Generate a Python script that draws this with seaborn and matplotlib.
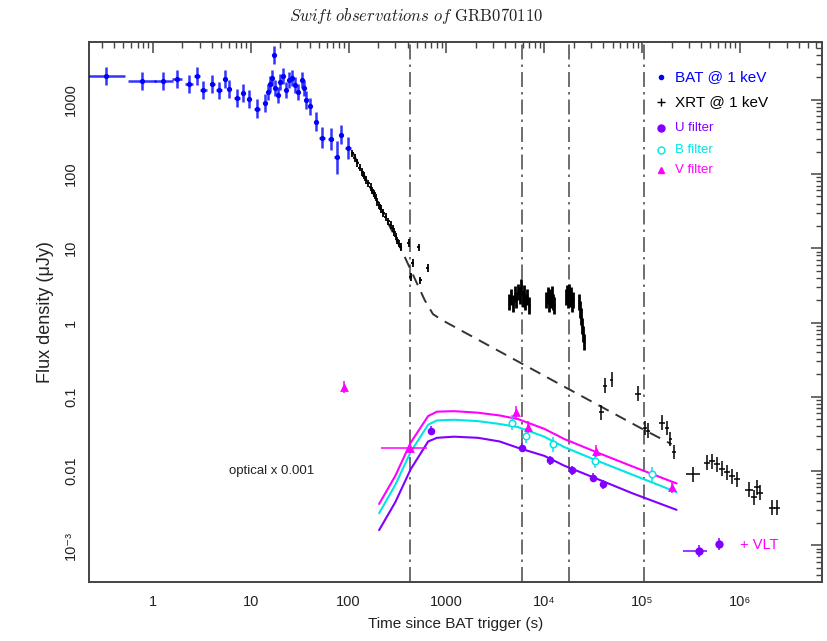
import numpy as np
import pandas as pd
import matplotlib
matplotlib.use("Agg")
import matplotlib.pyplot as plt
from matplotlib.ticker import LogLocator, NullFormatter, FixedLocator
import seaborn as sns

# ---------------- data ----------------
# BAT @ 1 keV
bat_t = [0.335, 0.77, 1.28, 1.75, 2.34, 2.8, 3.28, 4.06, 4.75, 5.47, 6.0, 7.2, 8.4, 9.65,
         11.6, 14.1, 15.1, 15.8, 16.6, 17.4, 17.8, 19.1, 20.1, 21.5, 23.1, 24.8, 26.6, 28.6,
         30.7, 33.0, 35.4, 37.1, 40.7, 45.9, 53.8, 65.3, 75.3, 84.2, 98.4]
bat_f = [2100, 1770, 1770, 1900, 1650, 2100, 1365, 1650, 1336, 1900, 1394, 1054, 1230, 1022,
         760, 902, 1283, 1645, 1982, 4050, 1452, 1169, 1750, 2108, 1365, 1862, 1982, 1595,
         1283, 1862, 1452, 1000, 812, 509, 309, 294, 168, 337, 222]
bat_ydex = [0.12, 0.12, 0.12, 0.12, 0.12, 0.12, 0.12, 0.12, 0.12, 0.12, 0.12, 0.12, 0.12, 0.12,
            0.13, 0.12, 0.11, 0.11, 0.11, 0.12, 0.11, 0.11, 0.11, 0.11, 0.11, 0.11, 0.11, 0.11,
            0.11, 0.11, 0.11, 0.12, 0.12, 0.13, 0.14, 0.15, 0.22, 0.13, 0.15]
bat_xdex = [0.19, 0.14, 0.10, 0.05, 0.04, 0.03, 0.04, 0.03, 0.03, 0.02, 0.02, 0.03, 0.02, 0.02,
            0.03, 0.02, 0.01, 0.01, 0.01, 0.01, 0.01, 0.01, 0.01, 0.01, 0.01, 0.01, 0.01, 0.01,
            0.01, 0.01, 0.01, 0.01, 0.02, 0.02, 0.03, 0.03, 0.03, 0.02, 0.03]

# XRT @ 1 keV : early steep decay
xrt1_t = [109, 116, 123, 130, 138, 143, 149, 158, 168, 175, 182, 190, 197, 205, 213, 226,
          239, 254, 270, 281, 292, 304, 316, 328, 341, 412, 432, 453, 522, 540, 646]
xrt1_f = [190, 165, 140, 122, 107, 95, 83, 75, 67, 60, 55, 48, 42, 38, 34, 30,
          26.5, 23, 20.5, 18.5, 16.6, 14.5, 12.8, 11.5, 10.4, 11.7, 4.1, 6.3, 10.3, 3.7, 5.4]
# XRT flares
xrt2_t = [4400, 4600, 4800, 5000, 5200, 5400, 5600, 5800, 6000, 6200, 6400, 6700, 7000,
          10500, 10800, 11100, 11400, 11700, 12000, 12300, 12600,
          16800, 17200, 17600, 18000, 18400, 18800, 19300, 19800,
          22400, 23000, 23600, 24300, 25000, 25700]
xrt2_f = [1.9, 2.2, 1.8, 2.4, 2.0, 2.6, 2.3, 3.0, 2.1, 2.5, 1.9, 2.2, 1.7,
          2.0, 2.3, 1.8, 2.2, 2.0, 2.4, 1.9, 1.7,
          2.2, 2.5, 2.0, 2.6, 2.1, 2.3, 1.8, 2.0,
          1.9, 1.5, 1.2, 0.9, 0.7, 0.55]
# XRT late
xrt3_t = [38400, 41600, 48700, 90000, 107000, 115000, 160000, 180000, 195000, 210000,
          334000, 460000, 515000, 580000, 653000, 736000, 828000, 931000,
          1230000, 1380000, 1490000, 1610000, 2130000, 2400000]
xrt3_f = [0.062, 0.14, 0.17, 0.11, 0.038, 0.035, 0.045, 0.038, 0.027, 0.018,
          0.009, 0.0129, 0.0136, 0.0123, 0.0107, 0.0096, 0.0085, 0.0077,
          0.0056, 0.0044, 0.0060, 0.0051, 0.0032, 0.0032]
xrt3_xdex = [0.03, 0.02, 0.02, 0.03, 0.02, 0.02, 0.03, 0.02, 0.02, 0.02,
             0.07, 0.03, 0.03, 0.03, 0.03, 0.03, 0.03, 0.03,
             0.04, 0.03, 0.03, 0.03, 0.03, 0.03]

# model (dashed)
mod_t = [110, 341, 600, 727, 900, 16800, 100000, 200000]
mod_f = [195, 10.0, 2.0, 1.3, 1.08, 0.132, 0.037, 0.023]

# optical model curves (x 0.001)
curve_t = [205, 300, 430, 650, 800, 1200, 2100, 3500, 5400, 10000, 16000, 35000, 80000, 225000]
curve_V = [0.0036, 0.0086, 0.024, 0.055, 0.063, 0.064, 0.061, 0.056, 0.050, 0.037, 0.027, 0.0177, 0.0115, 0.0068]
curve_B = [0.0027, 0.0065, 0.018, 0.042, 0.048, 0.049, 0.047, 0.043, 0.039, 0.029, 0.021, 0.0137, 0.0089, 0.0052]
curve_U = [0.0016, 0.0038, 0.0105, 0.025, 0.028, 0.029, 0.028, 0.025, 0.0205, 0.016, 0.0118, 0.0078, 0.0050, 0.0030]

# optical points
U_t = [693, 5900, 11400, 19000, 31800, 39600]
U_f = [0.035, 0.0207, 0.014, 0.0102, 0.0081, 0.0066]
B_t = [4700, 6500, 12300, 33000, 126000]
B_f = [0.045, 0.030, 0.023, 0.0138, 0.009]
V_t = [89, 423, 5160, 6800, 34100, 201000]
V_f = [0.134, 0.0207, 0.0617, 0.039, 0.0186, 0.006]
V_tlo = [89, 215, 5160, 6800, 34100, 201000]
V_thi = [89, 640, 5160, 6800, 34100, 201000]
VLT_t = [380000, 610000]
VLT_f = [0.00083, 0.00103]
VLT_tlo = [264000, 590000]
VLT_thi = [460000, 630000]

vlines_t = [420, 5900, 18000, 105000]

xtick_vals = [1, 10, 100, 1e3, 1e4, 1e5, 1e6]
xtick_labels = ["1", "10", "100", "1000", "10\u2074", "10\u2075", "10\u2076"]
ytick_vals = [1e-3, 1e-2, 0.1, 1, 10, 100, 1000]
ytick_labels = ["10\u207b\u00b3", "0.01", "0.1", "1", "10", "100", "1000"]

legend_items = [("BAT @ 1 keV", "blue"), ("XRT @ 1 keV", "black"),
                ("U filter", "#8000ff"), ("B filter", "#00e5e5"), ("V filter", "#ff00ff")]

# ---------------- style ----------------
sns.set_theme(style="white")
plt.rcParams["font.family"] = ["Liberation Sans", "DejaVu Sans"]
plt.rcParams["mathtext.fontset"] = "cm"

C_BAT = "blue"
C_XRT = "black"
C_U = "#8000ff"
C_B = "#00e5e5"
C_V = "#ff00ff"

fig = plt.figure(figsize=(8.28, 6.41), dpi=100)
ax = fig.add_axes([89 / 828, 1 - 582 / 641, 733 / 828, 540 / 641])
ax.set_xscale("log")
ax.set_yscale("log")
ax.set_xlim(0.222, 6.9e6)
ax.set_ylim(3.2e-4, 6000)


def dex_err(vals, dex):
    v = np.asarray(vals, float)
    d = np.asarray(dex, float)
    return np.vstack([v - v * 10 ** (-d), v * 10 ** d - v])


# vertical dash-dot lines
for t in vlines_t:
    ax.axvline(t, color="#555555", lw=1.2, ls=(0, (9, 3, 1.5, 3)), zorder=1)

# model dashed line
sns.lineplot(x=mod_t, y=mod_f, ax=ax, color="#333333", lw=1.4, sort=False,
             estimator=None, zorder=2)
ax.lines[-1].set_dashes((6, 4))

# XRT
ax.errorbar(xrt1_t, xrt1_f, yerr=dex_err(xrt1_f, [0.05] * len(xrt1_f)),
            xerr=dex_err(xrt1_t, [0.015] * len(xrt1_t)),
            fmt="none", ecolor=C_XRT, elinewidth=1.3, zorder=3)
ax.errorbar(xrt2_t, xrt2_f, yerr=dex_err(xrt2_f, [0.11] * len(xrt2_f)),
            xerr=dex_err(xrt2_t, [0.008] * len(xrt2_t)),
            fmt="none", ecolor=C_XRT, elinewidth=2.0, zorder=3)
ax.errorbar(xrt3_t, xrt3_f, yerr=dex_err(xrt3_f, [0.1] * len(xrt3_f)),
            xerr=dex_err(xrt3_t, xrt3_xdex),
            fmt="none", ecolor=C_XRT, elinewidth=1.1, zorder=3)

# BAT
ax.errorbar(bat_t, bat_f, yerr=dex_err(bat_f, bat_ydex), xerr=dex_err(bat_t, bat_xdex),
            fmt="none", ecolor=C_BAT, elinewidth=1.8, alpha=0.8, zorder=4)
sns.scatterplot(x=bat_t, y=bat_f, ax=ax, color=C_BAT, s=14, linewidth=0, zorder=5)

# optical curves
curves = pd.DataFrame({"t": curve_t * 3,
                       "f": curve_V + curve_B + curve_U,
                       "band": ["V"] * len(curve_t) + ["B"] * len(curve_t) + ["U"] * len(curve_t)})
sns.lineplot(data=curves, x="t", y="f", hue="band", palette={"V": C_V, "B": C_B, "U": C_U},
             ax=ax, lw=1.5, sort=False, estimator=None, legend=False, zorder=6)

# optical points
ax.errorbar(U_t, U_f, yerr=dex_err(U_f, [0.06] * len(U_f)), fmt="none", ecolor=C_U,
            elinewidth=1.1, zorder=7)
sns.scatterplot(x=U_t, y=U_f, ax=ax, color=C_U, s=30, linewidth=0, zorder=8)
ax.errorbar(B_t, B_f, yerr=dex_err(B_f, [0.1] * len(B_f)), fmt="none", ecolor=C_B,
            elinewidth=1.1, zorder=7)
sns.scatterplot(x=B_t, y=B_f, ax=ax, facecolor="white", edgecolor=C_B, s=22, linewidth=1.1, zorder=8)
V_xerr = np.vstack([np.array(V_t) - np.array(V_tlo), np.array(V_thi) - np.array(V_t)])
ax.errorbar(V_t, V_f, yerr=dex_err(V_f, [0.08] * len(V_f)), xerr=V_xerr, fmt="none",
            ecolor=C_V, elinewidth=1.1, zorder=7)
sns.scatterplot(x=V_t, y=V_f, ax=ax, color=C_V, marker="^", s=40, linewidth=0, zorder=8)
VLT_xerr = np.vstack([np.array(VLT_t) - np.array(VLT_tlo), np.array(VLT_thi) - np.array(VLT_t)])
ax.errorbar(VLT_t, VLT_f, yerr=dex_err(VLT_f, [0.08, 0.08]), xerr=VLT_xerr, fmt="none",
            ecolor=C_U, elinewidth=1.1, zorder=7)
sns.scatterplot(x=VLT_t, y=VLT_f, ax=ax, color=C_U, s=36, linewidth=0, zorder=8)

# annotations
ax.text(6.0, 0.01, "optical x 0.001", fontsize=9.5, va="center", ha="left", color="#222222")
ax.text(1.0e6, 0.001, "+ VLT", fontsize=10.5, va="center", ha="left", color=C_V)

# legend (manual)
leg_y = [0.936, 0.889, 0.841, 0.800, 0.763]
leg_fs = [11, 11, 9.5, 9.5, 9.5]
leg_mk = [("o", 3, True), ("+", 6, True), ("o", 5, True), ("o", 5, False), ("^", 5, True)]
for (lab, col), yy, fs, (mk, ms, filled) in zip(legend_items, leg_y, leg_fs, leg_mk):
    ax.plot([0.781], [yy], transform=ax.transAxes, marker=mk, ms=ms, color=col,
            mfc=col if filled else "white", mec=col, ls="none", clip_on=False)
    ax.text(0.800, yy, lab, transform=ax.transAxes, fontsize=fs, color=col,
            va="center", ha="left")

# axes formatting
ax.xaxis.set_major_locator(FixedLocator(xtick_vals))
ax.set_xticklabels(xtick_labels)
ax.yaxis.set_major_locator(FixedLocator(ytick_vals))
ax.set_yticklabels(ytick_labels, rotation=90, va="center")
ax.xaxis.set_minor_locator(LogLocator(base=10, subs=np.arange(2, 10), numticks=50))
ax.yaxis.set_minor_locator(LogLocator(base=10, subs=np.arange(2, 10), numticks=50))
ax.xaxis.set_minor_formatter(NullFormatter())
ax.yaxis.set_minor_formatter(NullFormatter())
ax.tick_params(which="both", direction="in", top=True, right=True, colors="#444444",
               labelcolor="#222222")
ax.tick_params(which="major", length=8, width=1.1, labelsize=10.5)
ax.tick_params(which="minor", length=4, width=1.0)
ax.tick_params(axis="x", which="major", pad=9)
ax.tick_params(axis="y", which="major", pad=8)
for sp in ax.spines.values():
    sp.set_color("#444444")
    sp.set_linewidth(1.4)

ax.set_xlabel("Time since BAT trigger (s)", fontsize=11, color="#222222", labelpad=6)
ax.set_ylabel("Flux density (\u03bcJy)", fontsize=13, color="#222222", labelpad=7)

fig.text(416 / 828, 1 - 16 / 641,
         r"$\mathit{Swift\ observations\ of}\ \mathrm{GRB070110}$",
         fontsize=12, ha="center", va="center", color="#222222")

fig.savefig("out.png", dpi=100)
